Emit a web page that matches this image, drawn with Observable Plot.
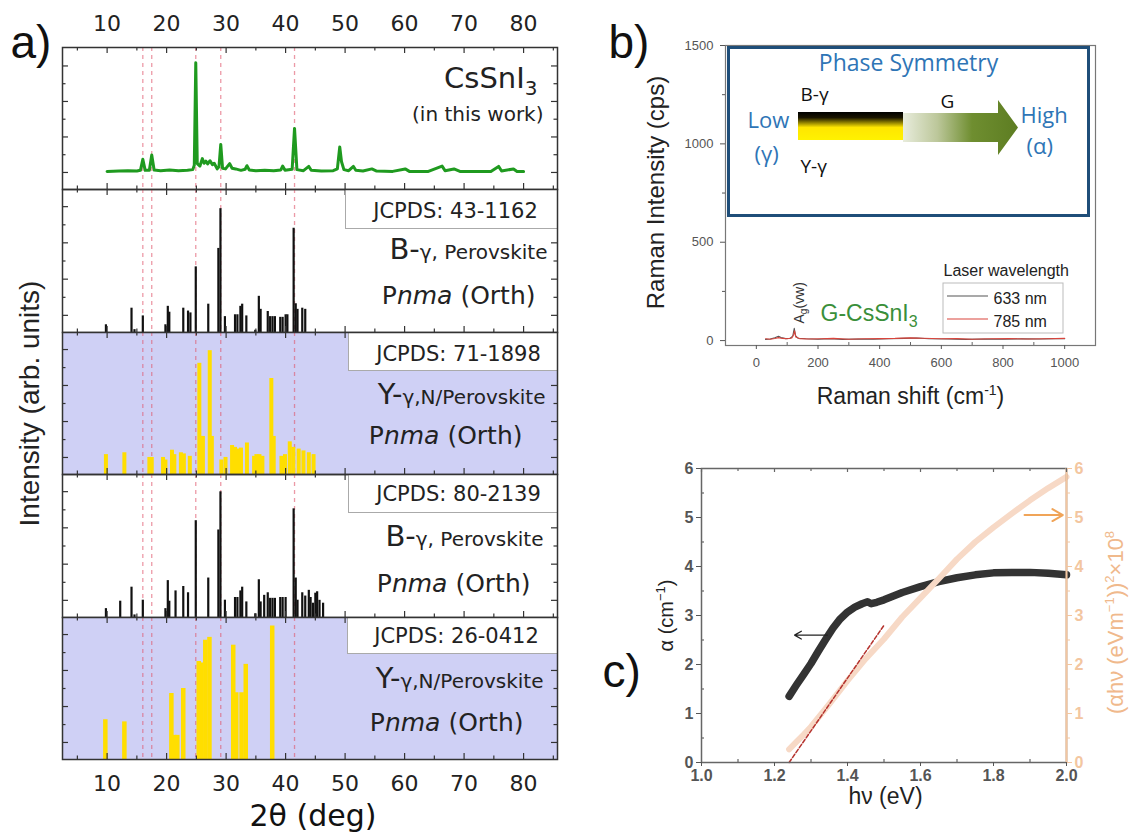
<!DOCTYPE html>
<html><head><meta charset="utf-8">
<script src="https://cdn.jsdelivr.net/npm/d3@7"></script>
<script src="https://cdn.jsdelivr.net/npm/@observablehq/plot@0.6"></script>
<style>
body{margin:0;background:#fff}
#root{position:relative;width:1129px;height:839px;overflow:hidden;background:#fff}
</style></head><body><div id="root"></div>
<script>
// ================= DATA =================
// panel a : XRD (2θ in degrees)
const thetaTicks = [10, 20, 30, 40, 50, 60, 70, 80];
const thetaMinorTicks = [5, 15, 25, 35, 45, 55, 65, 75, 85];
const markerTheta = [16.0, 17.5, 24.9, 29.1, 41.5];
// measured pattern [2θ, counts ×10^3]
const xrdCsSnI3 = [[10,0.03],[12,0.04],[13.5,0.05],[15,0.04],[15.6,0.06],[16.0,0.37],[16.4,0.06],[17.1,0.06],[17.5,0.49],[17.9,0.07],[19,0.05],[20.5,0.07],[22,0.05],[23.5,0.06],[24.4,0.08],[24.65,0.2],[24.9,3.09],[25.15,0.25],[25.6,0.18],[26.0,0.39],[26.3,0.26],[26.6,0.32],[26.9,0.24],[27.3,0.33],[27.7,0.22],[28.0,0.26],[28.5,0.1],[28.8,0.16],[29.1,0.79],[29.4,0.12],[29.9,0.1],[30.6,0.25],[31.0,0.12],[31.6,0.1],[32.5,0.06],[33.2,0.09],[33.5,0.19],[33.9,0.07],[35,0.05],[36.5,0.06],[38,0.05],[39.2,0.07],[39.5,0.18],[39.9,0.06],[41.1,0.09],[41.5,1.24],[41.9,0.08],[43.0,0.05],[43.9,0.17],[44.3,0.06],[46,0.04],[48,0.05],[48.7,0.1],[49.1,0.72],[49.4,0.3],[49.8,0.08],[50.6,0.05],[51.4,0.17],[51.8,0.06],[53,0.04],[54.5,0.1],[55.3,0.04],[58,0.03],[60.1,0.1],[60.8,0.03],[64,0.03],[66.3,0.18],[66.8,0.05],[68.3,0.1],[69.3,0.03],[72,0.03],[74.5,0.03],[75.8,0.17],[76.3,0.04],[78.3,0.1],[78.9,0.03],[80,0.03]];
const xrdYTicks = [0, 1, 2, 3];
const xrdYMinor = [0.5, 1.5, 2.5];
// reference sticks [2θ, relative intensity %]
const pdf43_1162 = [[9.8,5.4],[14.1,17],[14.6,2],[16.0,11.6],[19.8,5.4],[20.2,18.3],[20.45,14.2],[22.8,17],[23.6,15],[24.0,13.7],[24.9,45.9],[27.0,19.8],[28.7,58.8],[29.05,86.6],[29.8,11.1],[31.5,12.4],[31.9,12.4],[32.4,18.3],[32.7,19.8],[33.4,11.6],[34.9,1.5],[35.5,25.3],[35.8,16.2],[37.0,14.7],[37.4,11.1],[37.8,11.1],[38.2,11.1],[39.1,10.6],[39.5,10.6],[40.0,12.4],[40.3,12.4],[41.35,72.9],[41.7,20.1],[42.0,16.2],[42.8,17],[43.3,16.2]];
const pdf71_1898 = [[9.8,14],[12.9,15.3],[17.1,12],[17.5,12],[19.4,12],[19.8,10.2],[20.9,17.1],[21.3,14],[22.4,15.3],[22.9,14.5],[23.9,12.8],[25.5,78.3],[25.8,26.8],[26.1,26.8],[27.25,87.2],[27.6,26.8],[29.2,10.2],[29.9,12],[31.0,20.4],[31.5,19.1],[31.9,17.9],[32.5,18.6],[33.5,22.2],[34.7,12.8],[35.1,14],[35.6,14],[36.1,12.8],[37.6,67.6],[38.0,26.8],[39.3,12.8],[39.9,14],[40.7,23],[41.3,19.1],[42.2,17.9],[43.0,16.6],[43.9,15.3],[44.7,14]];
const pdf80_2139 = [[9.8,6.2],[12.2,11.4],[14.1,21.2],[14.6,1.8],[16.0,12.1],[19.8,6.2],[20.2,25.8],[20.45,11.4],[21.5,18.6],[22.8,21.7],[23.6,17.3],[24.9,67.7],[27.0,27.6],[28.7,61.2],[29.05,87.9],[29.8,12.1],[31.5,14],[31.9,14],[32.4,18.6],[32.7,21.2],[33.4,10.9],[34.9,2.6],[35.5,26.4],[35.8,10.9],[36.4,15.5],[37.0,17.3],[37.4,13.4],[37.8,13.4],[38.2,13.4],[39.1,14],[39.5,14],[40.0,14],[41.35,76],[41.7,27.6],[42.0,12.1],[42.8,17.3],[43.3,15],[43.9,19],[44.2,14],[44.6,10],[45.0,17],[45.3,18],[45.7,12],[46.3,10]];
const pdf26_0412 = [[9.7,28],[12.9,26.5],[20.8,46.5],[21.3,17],[21.8,17],[22.8,50],[25.4,69],[25.8,68],[26.5,84],[27.2,86],[31.2,80.5],[31.7,47],[32.6,47],[33.3,67],[37.75,94]];
const stickYTicks = [12, 37.3, 62.7, 88];
const stickYMinor = [24.6, 50, 75.3];

// panel b : Raman [shift cm-1, cps]
const raman633 = [[30,6],[45,8],[60,14],[72,22],[80,16],[95,10],[110,12],[118,22],[123,62],[127,25],[135,12],[160,9],[200,7],[240,10],[280,6],[330,8],[380,7],[430,9],[480,11],[520,13],[560,9],[620,8],[680,6],[740,8],[800,7],[860,9],[920,8],[970,10],[1000,9]];
const raman785 = [[30,9],[45,7],[60,11],[72,15],[85,11],[100,9],[115,13],[121,30],[124,50],[128,18],[140,10],[170,8],[210,9],[250,11],[300,7],[350,9],[400,10],[450,11],[500,14],[540,12],[600,9],[650,10],[700,7],[760,9],[820,10],[880,8],[940,9],[1000,11]];
const ramanYTicks = [0, 500, 1000, 1500];
const ramanYMinor = [250, 750, 1250];
const ramanXTicks = [0, 200, 400, 600, 800, 1000];
const ramanXMinor = [100, 300, 500, 700, 900];

// panel c : absorption [hν eV, α] and Tauc [hν, (αhν)^2 ×10^8]
const absorption = [[1.24,1.35],[1.26,1.58],[1.28,1.8],[1.30,2.02],[1.32,2.27],[1.34,2.51],[1.36,2.74],[1.38,2.93],[1.40,3.07],[1.42,3.17],[1.44,3.24],[1.455,3.28],[1.465,3.24],[1.48,3.27],[1.50,3.32],[1.55,3.47],[1.60,3.59],[1.65,3.69],[1.70,3.77],[1.75,3.83],[1.80,3.87],[1.85,3.88],[1.90,3.88],[1.95,3.86],[2.0,3.83]];
const tauc = [[1.24,0.27],[1.26,0.42],[1.28,0.57],[1.30,0.73],[1.35,1.19],[1.40,1.67],[1.45,2.12],[1.50,2.52],[1.55,2.97],[1.60,3.36],[1.65,3.75],[1.70,4.15],[1.75,4.5],[1.80,4.8],[1.85,5.08],[1.90,5.35],[1.95,5.6],[2.0,5.83]];
const taucFit = [[1.24,0],[1.50,2.8]];
const alphaArrow = [{x1:1.345,y1:2.6,x2:1.255,y2:2.6}];
const taucArrow = [{x1:1.885,y1:5.05,x2:1.99,y2:5.05}];
const hvDomain = [1.0, 2.0];
const hvTicks = [1.0, 1.2, 1.4, 1.6, 1.8, 2.0];
const hvMinor = [1.1, 1.3, 1.5, 1.7, 1.9];
const cYTicks = [0, 1, 2, 3, 4, 5, 6];
const cYMinor = [0.5, 1.5, 2.5, 3.5, 4.5, 5.5];

// ================= HELPERS =================
const F_A = "DejaVu Sans", F_B = "Liberation Sans", F_I = "Open Sans";
const root = document.getElementById("root");
const none = () => "";
const cv = document.createElement("canvas").getContext("2d");
function measure(t, size, family, italic, weight) {
  cv.font = `${italic ? "italic " : ""}${weight || "normal"} ${size}px "${family}"`;
  return cv.measureText(t).width;
}
// rich text: x,y are page coordinates of the baseline anchor
function rich(parts, o) {
  const {x, y, anchor = "start", origin, rotate = 0, family = F_B, fill = "#111"} = o;
  const ws = parts.map(p => measure(p.t, p.size, p.family || family, p.italic, p.weight));
  const total = d3.sum(ws);
  let cur = anchor === "start" ? 0 : anchor === "end" ? -total : -total / 2;
  return parts.map((p, i) => {
    const off = cur; cur += ws[i];
    const sh = p.shift || 0;
    const dx = rotate ? x + sh - origin.x : x + off - origin.x;
    const dy = rotate ? y - off - origin.y : y + sh - origin.y;
    return Plot.text([p.t], {text: d => d, frameAnchor: "top-left", dx, dy, rotate, textAnchor: "start",
      lineAnchor: "bottom", fontSize: p.size, fontFamily: p.family || family,
      fontStyle: p.italic ? "italic" : "normal", fontWeight: p.weight || "normal", fill: p.fill || fill});
  });
}
function mount(svg, left, top) {
  Object.assign(svg.style, {position: "absolute", left: left + "px", top: top + "px",
    overflow: "visible", background: "transparent", maxWidth: "none"});
  root.appendChild(svg);
}
// inward frame ticks drawn as short rules in data space (len in px)
function innerTicks({xd, yd, w, h, xs = [], ys = [], len, sides, stroke = "#333", sw = 1.2}) {
  const kx = (xd[1] - xd[0]) / w, ky = (yd[1] - yd[0]) / h, out = [];
  const o = {stroke, strokeWidth: sw};
  if (sides.includes("t")) out.push(Plot.ruleX(xs, {...o, y1: yd[1], y2: yd[1] - len * ky}));
  if (sides.includes("b")) out.push(Plot.ruleX(xs, {...o, y1: yd[0], y2: yd[0] + len * ky}));
  if (sides.includes("l")) out.push(Plot.ruleY(ys, {...o, x1: xd[0], x2: xd[0] + len * kx}));
  if (sides.includes("r")) out.push(Plot.ruleY(ys, {...o, x1: xd[1], x2: xd[1] - len * kx}));
  return out;
}

// ================= PANEL a =================
const aLeft = 62, aRight = 557, aWidth = 560;
const subTops = [47, 189, 332, 474, 617], subBottoms = [189, 332, 474, 617, 759];
const thetaDomain = [2.5, 85.7];

function sticks(data, color, w) {
  return Plot.ruleX(data, {x: d => d[0], y1: 0, y2: d => d[1], stroke: color, strokeWidth: w});
}
function jcpdsBox(code, cx, by, boxLeft, boxBottom, i) {
  const h = subBottoms[i];
  return [
    Plot.frame({fill: "white", stroke: "#aaa", strokeWidth: 1, insetLeft: boxLeft - aLeft, insetBottom: h - boxBottom}),
    ...rich([{t: "JCPDS: " + code, size: 21}], {x: cx, y: by, anchor: "middle", origin: {x: aLeft, y: subTops[i]}, family: F_A, fill: "#222"})
  ];
}
function phaseLabel(big, small, x, y, i) {
  return rich([{t: big, size: 29}, {t: small, size: 20}], {x, y, anchor: "end", origin: {x: aLeft, y: subTops[i]}, family: F_A, fill: "#222"});
}
function pnma(x, y, i) {
  return rich([{t: "P", size: 25}, {t: "nma", size: 25, italic: true}, {t: " (Orth)", size: 25}], {x, y, anchor: "end", origin: {x: aLeft, y: subTops[i]}, family: F_A, fill: "#222"});
}
function buildSub(i, {bg = null, yDomain = [0, 100], yMajor = stickYTicks, yMinor = stickYMinor, content, annot = [], topAxis = false, bottomAxis = false}) {
  const top = subTops[i], bottom = subBottoms[i], h = bottom - top, w = aRight - aLeft;
  const mt = topAxis ? top : 0, mb = bottomAxis ? 80 : 0;
  const marks = [];
  if (bg) marks.push(Plot.frame({fill: bg}));
  marks.push(Plot.ruleX(markerTheta, {stroke: "#e0556a", strokeOpacity: 0.6, strokeWidth: 1.3, strokeDasharray: "4,4"}));
  marks.push(...content);
  const g = {xd: thetaDomain, yd: yDomain, w, h};
  marks.push(...innerTicks({...g, xs: thetaTicks, len: 6, sides: "tb"}));
  marks.push(...innerTicks({...g, xs: thetaMinorTicks, len: 3.5, sides: "tb"}));
  marks.push(...innerTicks({...g, ys: yMajor, len: 6, sides: "lr"}));
  marks.push(...innerTicks({...g, ys: yMinor, len: 3.5, sides: "lr"}));
  marks.push(...annot);
  if (topAxis) marks.push(Plot.axisX(thetaTicks, {anchor: "top", tickSize: 0, tickPadding: 17, fontSize: 22, fontFamily: F_A, fill: "#222", label: null}));
  if (bottomAxis) {
    marks.push(Plot.axisX(thetaTicks, {anchor: "bottom", tickSize: 0, tickPadding: 16, fontSize: 22, fontFamily: F_A, fill: "#222", label: null}));
    marks.push(Plot.text(["2θ (deg)"], {frameAnchor: "bottom", dx: 3, dy: 66, lineAnchor: "bottom", fontSize: 30, fontFamily: F_A, fill: "#111"}));
  }
  marks.push(Plot.frame({stroke: "#333", strokeWidth: 1.5}));
  const xOpt = {domain: thetaDomain};
  if (!topAxis && !bottomAxis) xOpt.axis = null;
  const svg = Plot.plot({
    width: aWidth, height: h + mt + mb,
    marginLeft: aLeft, marginRight: aWidth - aRight, marginTop: mt, marginBottom: mb,
    x: xOpt, y: {domain: yDomain, axis: null},
    style: {fontFamily: F_A},
    marks
  });
  mount(svg, 0, top - mt);
}

// sub 1 : measured CsSnI3
buildSub(0, {
  yDomain: [-0.48, 3.52], yMajor: xrdYTicks, yMinor: xrdYMinor, topAxis: true,
  content: [Plot.line(xrdCsSnI3, {x: d => d[0], y: d => d[1], stroke: "#1f9a1f", strokeWidth: 3, strokeLinejoin: "round"})],
  annot: [
    ...rich([{t: "CsSnI", size: 29}, {t: "3", size: 20, shift: 7}], {x: 537, y: 87, anchor: "end", origin: {x: aLeft, y: 47}, family: F_A, fill: "#222"}),
    ...rich([{t: "(in this work)", size: 20}], {x: 543, y: 120, anchor: "end", origin: {x: aLeft, y: 47}, family: F_A, fill: "#222"}),
    ...rich([{t: "a)", size: 46}], {x: 10, y: 57, origin: {x: aLeft, y: 47}, family: F_B, fill: "#111"})
  ]
});
// sub 2
buildSub(1, {
  content: [sticks(pdf43_1162, "#111", 2.2)],
  annot: [...jcpdsBox("43-1162", 455, 217, 345, 228, 1), ...phaseLabel("B-", "γ, Perovskite", 547, 258, 1), ...pnma(535, 303, 1)]
});
// sub 3
buildSub(2, {
  bg: "#cfd0f5",
  content: [sticks(pdf71_1898, "#ffde00", 4)],
  annot: [...jcpdsBox("71-1898", 458, 360, 348, 370, 2), ...phaseLabel("Y-", "γ,N/Perovskite", 545, 403, 2), ...pnma(522, 443, 2),
    ...rich([{t: "Intensity (arb. units)", size: 28}], {x: 38, y: 403, anchor: "middle", rotate: -90, origin: {x: aLeft, y: 332}, family: F_B, fill: "#222"})]
});
// sub 4
buildSub(3, {
  content: [sticks(pdf80_2139, "#111", 2.2)],
  annot: [...jcpdsBox("80-2139", 458, 500, 348, 512, 3), ...phaseLabel("B-", "γ, Perovskite", 543, 545, 3), ...pnma(530, 591, 3)]
});
// sub 5
buildSub(4, {
  bg: "#cfd0f5", bottomAxis: true,
  content: [sticks(pdf26_0412, "#ffde00", 4.5)],
  annot: [...jcpdsBox("26-0412", 456, 642, 347, 653, 4), ...phaseLabel("Y-", "γ,N/Perovskite", 543, 687, 4), ...pnma(523, 730, 4)]
});

// ================= PANEL b =================
(function () {
  const svgL = 590, svgT = 0, ml = 135, mt = 45;
  const origin = {x: svgL + ml, y: svgT + mt};
  const blue = "#2e75b6";
  const graphics = () => {
    const g = d3.create("svg:g");
    const defs = g.append("defs");
    const gb = defs.append("linearGradient").attr("id", "barGrad").attr("x1", 0).attr("y1", 0).attr("x2", 0).attr("y2", 1);
    [[0, "#000"], [0.2, "#1a1500"], [0.55, "#ffe600"], [1, "#fff200"]].forEach(([o, c]) => gb.append("stop").attr("offset", o).attr("stop-color", c));
    const ga = defs.append("linearGradient").attr("id", "arrGrad").attr("gradientUnits", "userSpaceOnUse")
      .attr("x1", 903 - svgL).attr("x2", 1018 - svgL).attr("y1", 0).attr("y2", 0);
    [[0, "#e8ecdc"], [0.3, "#bcc79a"], [0.6, "#6f8e30"], [1, "#5d7d22"]].forEach(([o, c]) => ga.append("stop").attr("offset", o).attr("stop-color", c));
    const X = v => v - svgL, Y = v => v - svgT;
    g.append("rect").attr("x", X(798)).attr("y", Y(112)).attr("width", 105).attr("height", 28).attr("fill", "url(#barGrad)");
    g.append("path").attr("d", `M${X(903)},${Y(113)}L${X(998)},${Y(113)}L${X(998)},${Y(100)}L${X(1018)},${Y(127.5)}L${X(998)},${Y(155)}L${X(998)},${Y(142)}L${X(903)},${Y(142)}Z`).attr("fill", "url(#arrGrad)");
    // legend
    g.append("rect").attr("x", X(943)).attr("y", Y(283)).attr("width", 120).attr("height", 50).attr("fill", "none").attr("stroke", "#bbb");
    g.append("line").attr("x1", X(947)).attr("x2", X(988)).attr("y1", Y(296)).attr("y2", Y(296)).attr("stroke", "#555").attr("stroke-width", 1.2);
    g.append("line").attr("x1", X(947)).attr("x2", X(988)).attr("y1", Y(319)).attr("y2", Y(319)).attr("stroke", "#d9443c").attr("stroke-width", 1.2);
    return g.node();
  };
  const c = {label: null, color: "#555", tickFormat: d3.format("d")};
  const xd = [-100, 1100], yd = [-25, 1500];
  const svg = Plot.plot({
    width: 510, height: 420, marginLeft: ml, marginTop: mt, marginRight: 5, marginBottom: 75,
    x: {domain: xd}, y: {domain: yd},
    style: {fontFamily: F_B},
    marks: [
      Plot.frame({stroke: "#777", strokeWidth: 1.2}),
      Plot.frame({fill: "white", stroke: "#1f4e79", strokeWidth: 3, insetLeft: 3, insetRight: 7, insetTop: 2, insetBottom: 130}),
      graphics,
      Plot.line(raman633, {x: d => d[0], y: d => d[1], stroke: "#555", strokeWidth: 1.1}),
      Plot.line(raman785, {x: d => d[0], y: d => d[1], stroke: "#d9443c", strokeWidth: 1.1}),
      Plot.axisY(ramanYTicks, {...c, anchor: "left", tickSize: 5, tickPadding: 7, fontSize: 13}),
      Plot.axisY(ramanYMinor, {...c, anchor: "left", tickSize: 3, tickFormat: none}),
      Plot.axisX(ramanXTicks, {...c, anchor: "bottom", tickSize: 4, tickPadding: 8, fontSize: 13}),
      ...innerTicks({xd, yd, w: 370, h: 300, xs: ramanXMinor, len: 3, sides: "b", stroke: "#666", sw: 1}),
      ...rich([{t: "b)", size: 46}], {x: 608, y: 57, origin}),
      ...rich([{t: "Raman Intensity (cps)", size: 24}], {x: 663, y: 192, anchor: "middle", rotate: -90, origin, fill: "#222"}),
      ...rich([{t: "Raman shift (cm", size: 23}, {t: "-1", size: 14, shift: -9}, {t: ")", size: 23}], {x: 910, y: 403, anchor: "middle", origin, fill: "#222"}),
      ...rich([{t: "Phase Symmetry", size: 23}], {x: 908, y: 70, anchor: "middle", origin, family: F_I, fill: blue}),
      ...rich([{t: "B-γ", size: 19}], {x: 800, y: 100, origin, family: F_I, fill: "#111"}),
      ...rich([{t: "Y-γ", size: 19}], {x: 800, y: 172, origin, family: F_I, fill: "#111"}),
      ...rich([{t: "G", size: 19}], {x: 940, y: 107, origin, family: F_I, fill: "#111"}),
      ...rich([{t: "Low", size: 22}], {x: 747, y: 127, origin, family: F_I, fill: blue}),
      ...rich([{t: "(γ)", size: 22}], {x: 754, y: 161, origin, family: F_I, fill: blue}),
      ...rich([{t: "High", size: 22}], {x: 1020, y: 122, origin, family: F_I, fill: blue}),
      ...rich([{t: "(α)", size: 22}], {x: 1026, y: 153, origin, family: F_I, fill: blue}),
      ...rich([{t: "Laser wavelength", size: 16}], {x: 943, y: 275, origin, fill: "#222"}),
      ...rich([{t: "633 nm", size: 16}], {x: 993, y: 303, origin, fill: "#222"}),
      ...rich([{t: "785 nm", size: 16}], {x: 993, y: 326, origin, fill: "#222"}),
      ...rich([{t: "G-CsSnI", size: 23}, {t: "3", size: 16, shift: 6}], {x: 820, y: 320, origin, fill: "#3a8f3a"}),
      ...rich([{t: "A", size: 14}, {t: "g", size: 10, shift: 3}, {t: "(vw)", size: 14}], {x: 803, y: 323, rotate: -90, origin, fill: "#333"})
    ]
  });
  mount(svg, svgL, svgT);
})();

// ================= PANEL c =================
(function () {
  const svgL = 600, svgT = 430, ml = 101, mt = 38;
  const origin = {x: svgL + ml, y: svgT + mt};
  const grey = {label: null, color: "#555"};
  const orange = {label: null, color: "#f3c6a0"};
  const yd = [0, 6];
  const g = {xd: hvDomain, yd, w: 365, h: 294};
  const svg = Plot.plot({
    width: 529, height: 409, marginLeft: ml, marginTop: mt, marginRight: 63, marginBottom: 77,
    x: {domain: hvDomain}, y: {domain: yd},
    style: {fontFamily: F_B},
    marks: [
      Plot.line(absorption, {x: d => d[0], y: d => d[1], stroke: "#333", strokeWidth: 7.5, strokeLinecap: "round", strokeLinejoin: "round"}),
      Plot.line(tauc, {x: d => d[0], y: d => d[1], stroke: "#f7d9c6", strokeWidth: 6, strokeLinecap: "round"}),
      Plot.line(taucFit, {x: d => d[0], y: d => d[1], stroke: "#b5332e", strokeWidth: 1.5, strokeDasharray: "4,2"}),
      Plot.arrow(alphaArrow, {x1: "x1", y1: "y1", x2: "x2", y2: "y2", stroke: "#222", strokeWidth: 1.3, headLength: 9}),
      Plot.arrow(taucArrow, {x1: "x1", y1: "y1", x2: "x2", y2: "y2", stroke: "#f0a458", strokeWidth: 2, headLength: 9}),
      Plot.frame({stroke: "#666", strokeWidth: 1.5}),
      Plot.ruleX([hvDomain[1]], {stroke: "#f3c6a0", strokeWidth: 2}),
      Plot.axisY(cYTicks, {...grey, anchor: "left", tickSize: 5, tickPadding: 3, fontSize: 16, fontWeight: "bold"}),
      ...innerTicks({...g, ys: cYMinor, len: 3, sides: "l", stroke: "#666"}),
      Plot.axisX(hvTicks, {...grey, anchor: "bottom", tickSize: 4, tickPadding: 3, fontSize: 16, fontWeight: "bold", tickFormat: d3.format(".1f")}),
      ...innerTicks({...g, xs: hvMinor, len: 3, sides: "b", stroke: "#666"}),
      ...innerTicks({...g, xs: hvTicks, len: 4, sides: "t", stroke: "#666"}),
      ...innerTicks({...g, xs: hvMinor, len: 3, sides: "t", stroke: "#666"}),
      Plot.axisY(cYTicks, {...orange, anchor: "right", tickSize: 5, tickPadding: 3, fontSize: 16, fontWeight: "bold"}),
      Plot.axisY(cYMinor, {...orange, anchor: "right", tickSize: 3, tickFormat: none}),
      ...rich([{t: "c)", size: 46}], {x: 602, y: 686, origin}),
      ...rich([{t: "α (cm", size: 20}, {t: "−1", size: 13, shift: -8}, {t: ")", size: 20}], {x: 672, y: 615, anchor: "middle", rotate: -90, origin, fill: "#222"}),
      ...rich([{t: "hν (eV)", size: 23}], {x: 885, y: 803, anchor: "middle", origin, fill: "#222"}),
      ...rich([{t: "(αhν (eVm", size: 22}, {t: "−1", size: 13, shift: -9}, {t: "))", size: 22}, {t: "2", size: 13, shift: -9}, {t: "×10", size: 22}, {t: "8", size: 13, shift: -9}],
        {x: 1122, y: 622, anchor: "middle", rotate: -90, origin, fill: "#f0b98c"})
    ]
  });
  mount(svg, svgL, svgT);
})();
</script></body></html>
